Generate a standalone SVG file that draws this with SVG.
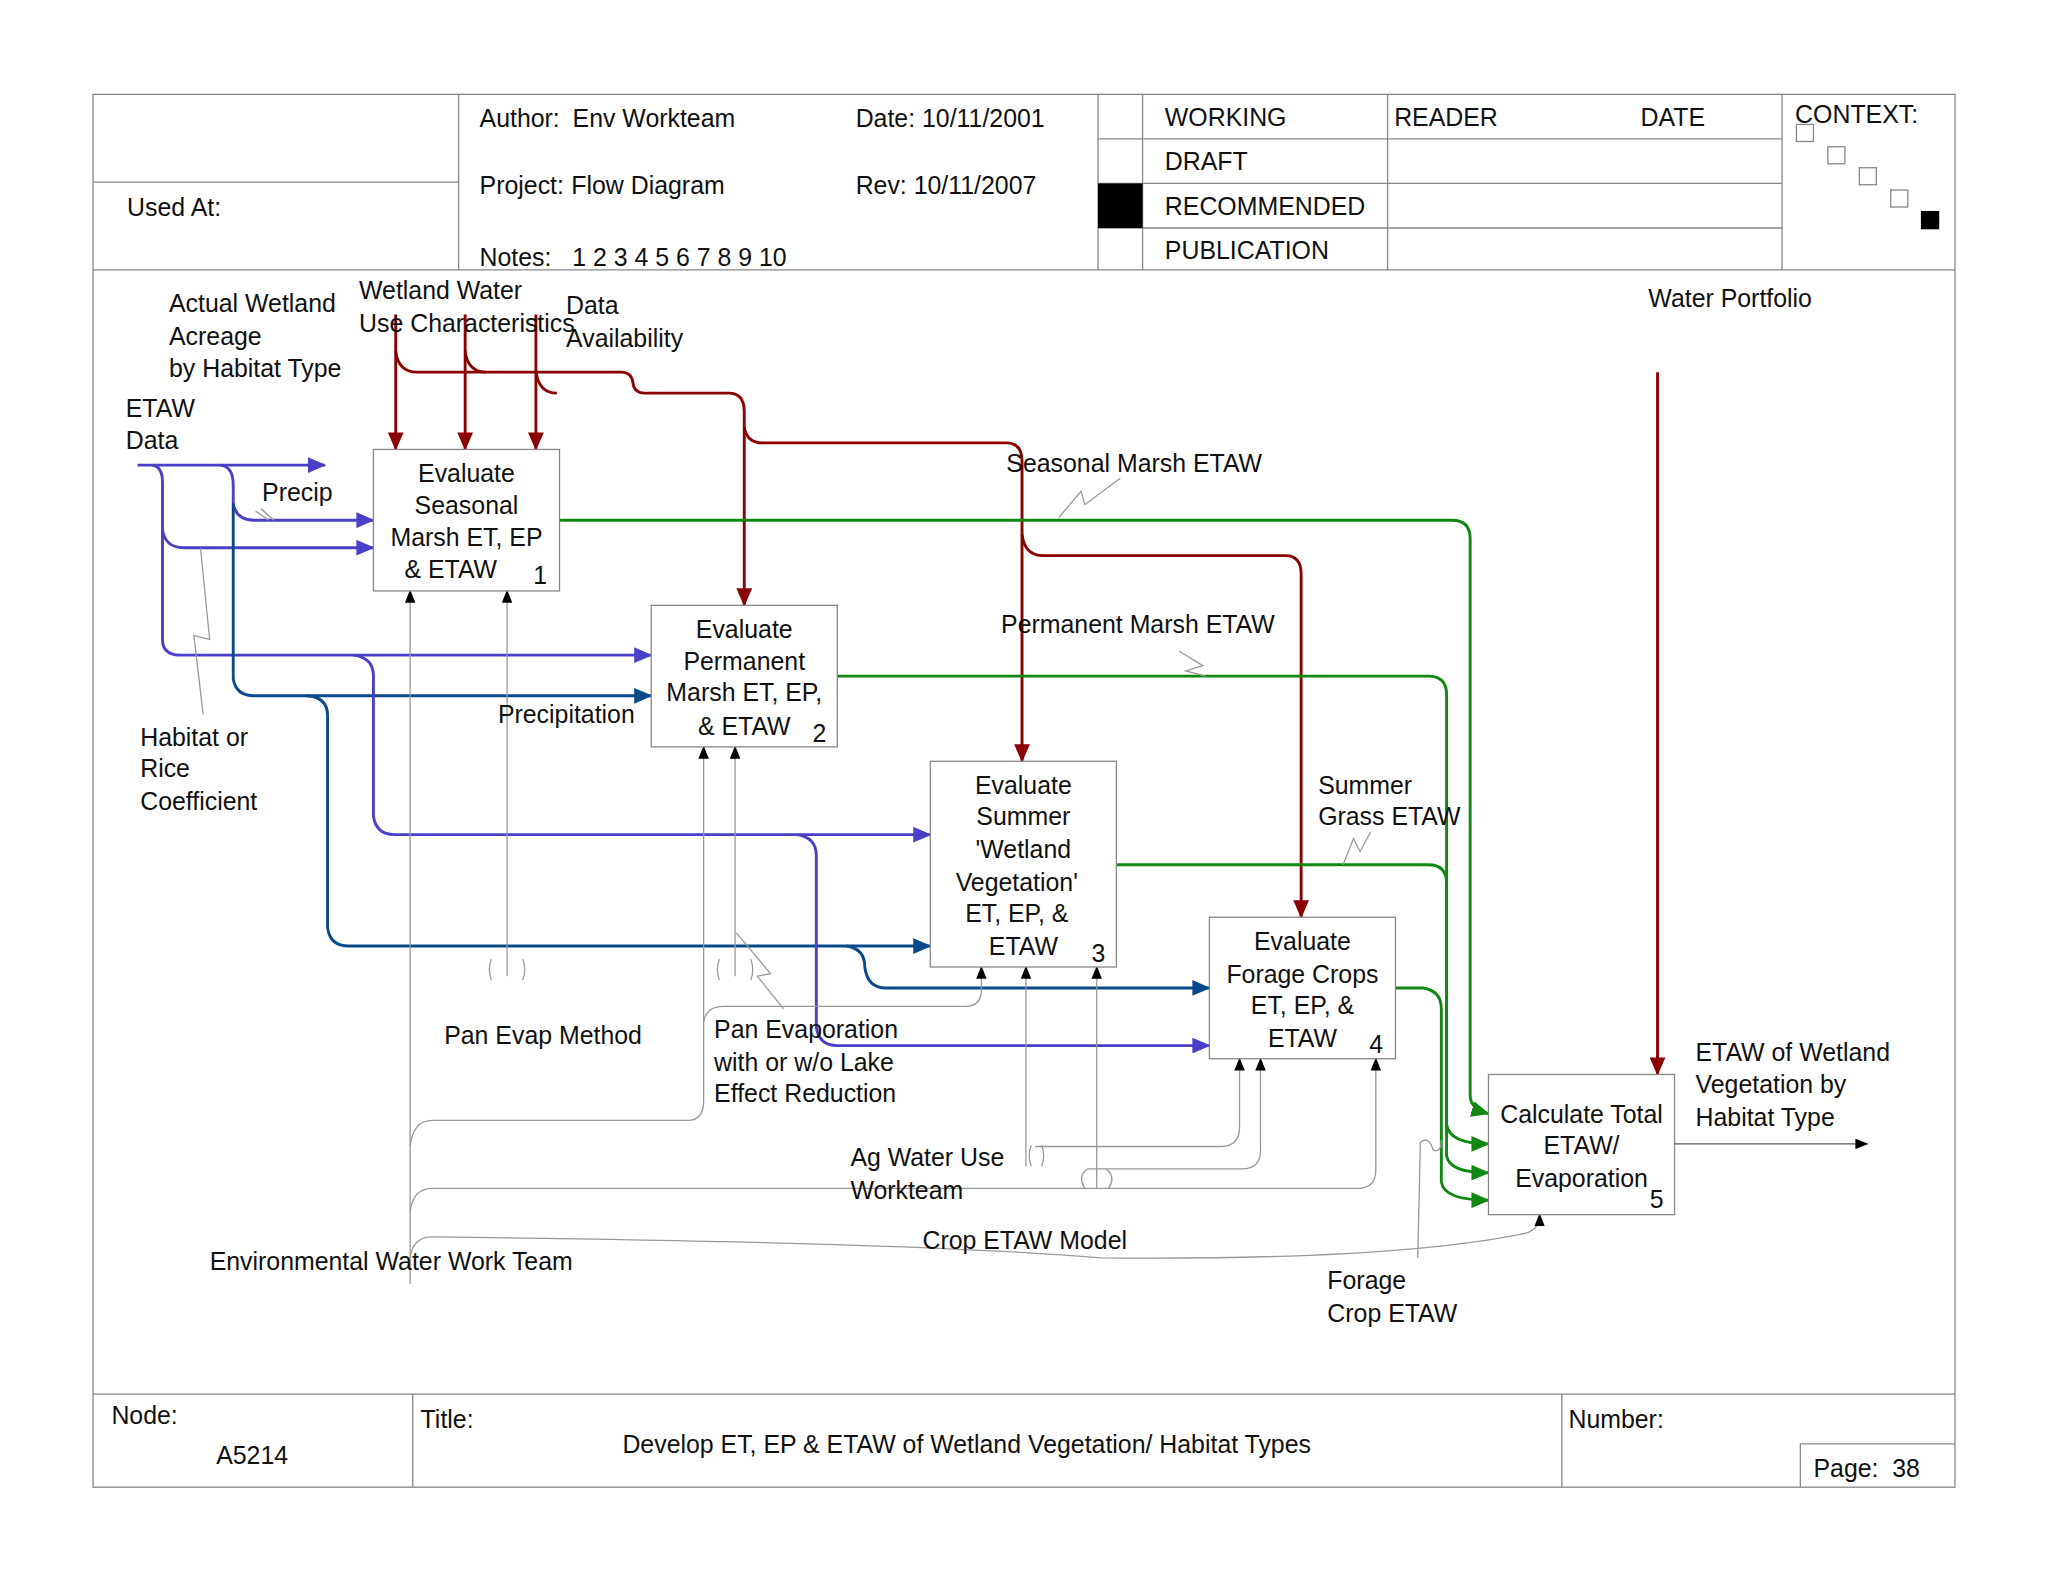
<svg xmlns="http://www.w3.org/2000/svg" width="2048" height="1582" viewBox="0 0 2048 1582">
<style>
text{font-family:"Liberation Sans",Arial,sans-serif;font-size:19px;fill:#111}
.c{text-anchor:middle}
.fr{fill:none;stroke:#888;stroke-width:1}
.box{fill:#fff;stroke:#888;stroke-width:1}
.red{fill:none;stroke:#8b0000;stroke-width:2.2}
.blu{fill:none;stroke:#4a3fc8;stroke-width:2.2}
.dbl{fill:none;stroke:#0a4a8a;stroke-width:2.2}
.grn{fill:none;stroke:#118811;stroke-width:2.2}
.gry{fill:none;stroke:#999;stroke-width:1}
.blk{fill:none;stroke:#555;stroke-width:1}
</style>
<defs>
<marker id="ar" markerWidth="14" markerHeight="12" refX="13" refY="6" orient="auto" markerUnits="userSpaceOnUse"><path d="M0,0L14,6L0,12z" fill="#8b0000"/></marker>
<marker id="ab" markerWidth="14" markerHeight="12" refX="13" refY="6" orient="auto" markerUnits="userSpaceOnUse"><path d="M0,0L14,6L0,12z" fill="#4a3fc8"/></marker>
<marker id="ad" markerWidth="14" markerHeight="12" refX="13" refY="6" orient="auto" markerUnits="userSpaceOnUse"><path d="M0,0L14,6L0,12z" fill="#0a4a8a"/></marker>
<marker id="ag" markerWidth="14" markerHeight="12" refX="13" refY="6" orient="auto" markerUnits="userSpaceOnUse"><path d="M0,0L14,6L0,12z" fill="#118811"/></marker>
<marker id="ak" markerWidth="10" markerHeight="8" refX="9" refY="4" orient="auto" markerUnits="userSpaceOnUse"><path d="M0,0L10,4L0,8z" fill="#000"/></marker>
</defs>
<rect width="2048" height="1582" fill="#fff"/>
<g transform="scale(1.3103)">
<g id="frame">
<rect class="fr" x="71" y="72" width="1421" height="1063"/>
<path class="fr" d="M71,206H1492M350,72V206M71,139H350M838,72V206M872,72V206M1059,72V206M1360,72V206M838,106H1360M838,140H1360M838,174H1360M71,1064H1492M315,1064V1135M1192,1064V1135M1374,1135V1102H1492"/>
<rect x="838" y="140" width="34" height="34" fill="#000"/>
<rect class="fr" x="1371" y="95" width="13" height="13"/><rect class="fr" x="1395" y="112" width="13" height="13"/><rect class="fr" x="1419" y="128" width="13" height="13"/><rect class="fr" x="1443" y="145" width="13" height="13"/><rect x="1466" y="161" width="14" height="14" fill="#000"/>
<text x="366" y="97">Author:</text><text x="437" y="97">Env Workteam</text><text x="653" y="97">Date: 10/11/2001</text>
<text x="366" y="148">Project:</text><text x="436" y="148">Flow Diagram</text><text x="653" y="148">Rev:  10/11/2007</text>
<text x="366" y="203" xml:space="preserve">Notes:   1 2 3 4 5 6 7 8 9 10</text>
<text x="97" y="165">Used At:</text>
<text x="889" y="96">WORKING</text><text x="889" y="130">DRAFT</text><text x="889" y="164">RECOMMENDED</text><text x="889" y="198">PUBLICATION</text>
<text x="1064" y="96">READER</text><text x="1252" y="96">DATE</text><text x="1370" y="94">CONTEXT:</text>
<text x="85" y="1087">Node:</text><text x="165" y="1117">A5214</text><text x="321" y="1090">Title:</text>
<text x="475" y="1109">Develop ET, EP &amp; ETAW of Wetland Vegetation/ Habitat Types</text>
<text x="1197" y="1090">Number:</text><text x="1384" y="1127" xml:space="preserve">Page:  38</text>
</g>
<g id="connectors">
<path class="red" d="M302,240V343" marker-end="url(#ar)"/>
<path class="red" d="M355,240V343" marker-end="url(#ar)"/>
<path class="red" d="M409,240V343" marker-end="url(#ar)"/>
<path class="red" d="M302,268Q304,284 318,284H474Q482,284 483,292Q484,300 492,300H556Q568,300 568,314V462" marker-end="url(#ar)"/>
<path class="red" d="M355,268Q357,284 371,284"/>
<path class="red" d="M409,283Q411,300 425,300"/>
<path class="red" d="M568,326Q570,338 582,338H768Q780,338 780,352V581" marker-end="url(#ar)"/>
<path class="red" d="M780,408Q782,424 796,424H981Q993,424 993,438V700" marker-end="url(#ar)"/>
<path class="red" d="M1265,284V820" marker-end="url(#ar)"/>
<path class="blu" d="M105,355H248" marker-end="url(#ab)"/>
<path class="blu" d="M116,355Q124,356 124,368V488Q124,500 138,500H497" marker-end="url(#ab)"/>
<path class="blu" d="M124,404Q126,418 140,418H285" marker-end="url(#ab)"/>
<path class="blu" d="M168,355Q178,356 178,370V384Q180,397 194,397H285" marker-end="url(#ab)"/>
<path class="dbl" d="M178,384V518Q180,531 194,531H497" marker-end="url(#ad)"/>
<path class="dbl" d="M234,531Q250,532 250,546V708Q252,722 266,722H710" marker-end="url(#ad)"/>
<path class="dbl" d="M646,722Q660,724 660,738Q662,754 676,754H923" marker-end="url(#ad)"/>
<path class="blu" d="M270,500Q285,502 285,516V623Q287,637 301,637H710" marker-end="url(#ab)"/>
<path class="blu" d="M608,637Q623,639 623,653V784Q625,798 639,798H923" marker-end="url(#ab)"/>
<path class="grn" d="M427,397H1108Q1122,397 1122,411V836Q1122,846 1136,850" marker-end="url(#ag)"/>
<path class="grn" d="M639,516H1090Q1104,516 1104,530V858Q1106,873 1136,873" marker-end="url(#ag)"/>
<path class="grn" d="M852,660H1090Q1104,660 1104,674V882Q1106,895 1136,895" marker-end="url(#ag)"/>
<path class="grn" d="M1065,754H1086Q1100,756 1100,770V902Q1102,916 1136,916" marker-end="url(#ag)"/>
<path class="blk" d="M1278,873H1425" marker-end="url(#ak)"/>
<path class="gry" d="M313,980V451" marker-end="url(#ak)"/>
<path class="gry" d="M387,745V451" marker-end="url(#ak)"/>
<path class="gry" d="M561,745V570" marker-end="url(#ak)"/>
<path class="gry" d="M313,875Q315,855 330,855H525Q537,855 537,840V570" marker-end="url(#ak)"/>
<path class="gry" d="M537,780Q539,768 552,768H737Q749,768 749,755V738" marker-end="url(#ak)"/>
<path class="gry" d="M783,890V738" marker-end="url(#ak)"/>
<path class="gry" d="M837,907V738" marker-end="url(#ak)"/>
<path class="gry" d="M790,875H932Q946,875 946,860V808" marker-end="url(#ak)"/>
<path class="gry" d="M830,892H948Q962,892 962,878V808" marker-end="url(#ak)"/>
<path class="gry" d="M313,925Q315,907 330,907H1036Q1050,907 1050,893V808" marker-end="url(#ak)"/>
<path class="gry" d="M313,960Q315,944 330,944Q700,948 840,960Q1060,962 1160,942Q1175,940 1175,927" marker-end="url(#ak)"/>
<path class="gry" d="M375,748Q372,740 375,732M399,748Q402,740 399,732M549,748Q546,740 549,732M573,748Q576,740 573,732M787,890Q784,882 787,874M795,890Q798,882 795,874M828,907Q822,898 830,892M846,907Q852,898 844,892"/>
<path class="gry" d="M1082,960L1084,872Q1090,866 1094,878Q1100,880 1100,870"/>
<path class="gry" d="M808,395L825,375L828,385L855,365"/>
<path class="gry" d="M900,497L918,508L905,512L920,516"/>
<path class="gry" d="M1025,660L1033,640L1038,650L1046,635"/>
<path class="gry" d="M155,545L148,485L160,488L153,418"/>
<path class="gry" d="M562,712L588,743L578,745L598,770"/>
<path class="gry" d="M195,390L205,397M199,388L209,397"/>
</g>
<g id="n1"><rect class="box" x="285" y="343" width="142" height="108"/><text class="c" x="356" y="368">Evaluate</text><text class="c" x="356" y="392">Seasonal</text><text class="c" x="356" y="417">Marsh ET, EP</text><text class="c" x="344" y="441">&amp; ETAW</text><text x="407" y="446">1</text></g>
<g id="n2"><rect class="box" x="497" y="462" width="142" height="108"/><text class="c" x="568" y="487">Evaluate</text><text class="c" x="568" y="511">Permanent</text><text class="c" x="568" y="535">Marsh ET, EP,</text><text class="c" x="568" y="561">&amp; ETAW</text><text x="620" y="566">2</text></g>
<g id="n3"><rect class="box" x="710" y="581" width="142" height="157"/><text class="c" x="781" y="606">Evaluate</text><text class="c" x="781" y="630">Summer</text><text class="c" x="781" y="655">'Wetland</text><text class="c" x="776" y="680">Vegetation'</text><text class="c" x="776" y="704">ET, EP, &amp;</text><text class="c" x="781" y="729">ETAW</text><text x="833" y="734">3</text></g>
<g id="n4"><rect class="box" x="923" y="700" width="142" height="108"/><text class="c" x="994" y="725">Evaluate</text><text class="c" x="994" y="750">Forage Crops</text><text class="c" x="994" y="774">ET, EP, &amp;</text><text class="c" x="994" y="799">ETAW</text><text x="1045" y="804">4</text></g>
<g id="n5"><rect class="box" x="1136" y="820" width="142" height="107"/><text class="c" x="1207" y="857">Calculate Total</text><text class="c" x="1207" y="881">ETAW/</text><text class="c" x="1207" y="906">Evaporation</text><text x="1259" y="922">5</text></g>
<g id="labels">
<text x="129" y="238">Actual Wetland</text><text x="129" y="263">Acreage</text><text x="129" y="288">by  Habitat Type</text>
<text x="274" y="228">Wetland Water</text><text x="274" y="253">Use Characteristics</text>
<text x="432" y="240">Data</text><text x="432" y="265">Availability</text>
<text x="96" y="318">ETAW</text><text x="96" y="343">Data</text>
<text x="200" y="382">Precip</text>
<text x="107" y="569">Habitat or</text><text x="107" y="593">Rice</text><text x="107" y="618">Coefficient</text>
<text x="380" y="552">Precipitation</text>
<text x="768" y="360">Seasonal Marsh ETAW</text>
<text x="764" y="483">Permanent Marsh ETAW</text>
<text x="1006" y="606">Summer</text><text x="1006" y="630">Grass ETAW</text>
<text x="1258" y="234">Water Portfolio</text>
<text x="339" y="797">Pan Evap Method</text>
<text x="545" y="792">Pan Evaporation</text><text x="545" y="817">with or w/o Lake</text><text x="545" y="841">Effect Reduction</text>
<text x="649" y="890">Ag Water Use</text><text x="649" y="915">Workteam</text>
<text x="704" y="953">Crop ETAW Model</text>
<text x="160" y="969">Environmental Water Work Team</text>
<text x="1013" y="984">Forage</text><text x="1013" y="1009">Crop ETAW</text>
<text x="1294" y="810">ETAW of Wetland</text><text x="1294" y="834">Vegetation by</text><text x="1294" y="859">Habitat Type</text>
</g>
</g>
</svg>
